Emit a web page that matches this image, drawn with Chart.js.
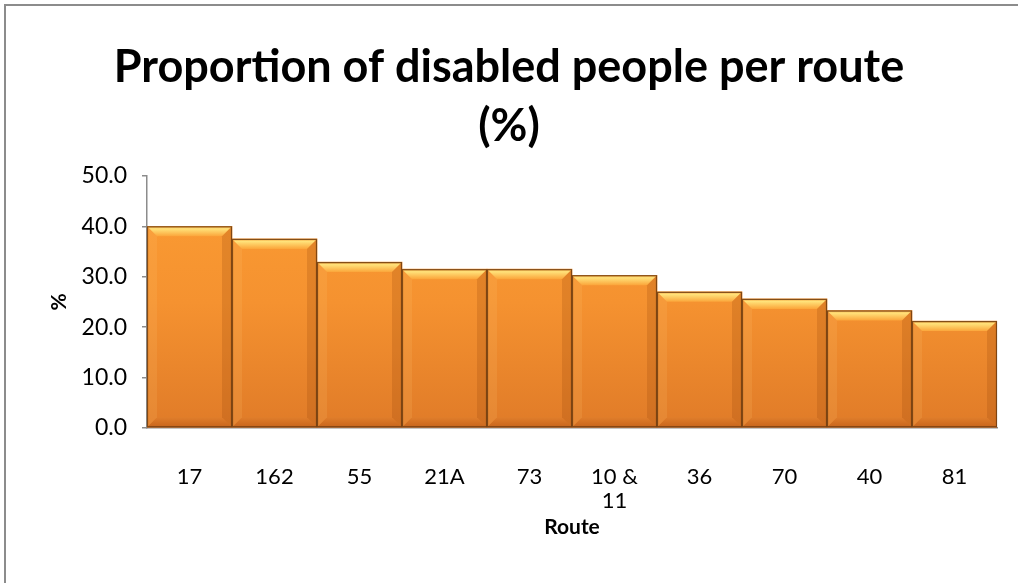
<!DOCTYPE html>
<html>
<head>
<meta charset="utf-8">
<script src="https://cdn.jsdelivr.net/npm/chart.js@4/dist/chart.umd.min.js"></script>
<style>
  html, body { margin: 0; padding: 0; background: #fff; overflow: hidden; width: 1018px; height: 583px; }
  #vline { position: absolute; left: 4px; top: 4px; width: 2px; height: 579px; background: #8c8c8c; }
  #hline { position: absolute; left: 4px; top: 4px; width: 1014px; height: 2px; background: #8c8c8c; }
  #wrap { position: absolute; left: 0; top: 0; width: 1018px; height: 583px; }
</style>
</head>
<body>
<div id="vline"></div>
<div id="hline"></div>
<div id="wrap"><canvas id="c" width="1018" height="583"></canvas></div>
<script>
const titleLines = ['Proportion of disabled people per route', '(%)'];
const categories = ['17', '162', '55', '21A', '73', ['10 &', '11'], '36', '70', '40', '81'];
const values = [40.0, 37.5, 32.9, 31.5, 31.5, 30.3, 27.0, 25.6, 23.3, 21.2];
const yTicks = { min: 0, max: 50, step: 10 };
const xTitle = 'Route';
const yTitle = '%';

const FONT = 'Lato, "Open Sans", sans-serif';

function barGradient(ctx) {
  const chart = ctx.chart;
  const area = chart.chartArea;
  if (!area) return '#F7962F';
  const g = chart.ctx.createLinearGradient(0, area.top, 0, area.bottom);
  g.addColorStop(0, '#FC9D33');
  g.addColorStop(0.5, '#F59230');
  g.addColorStop(1, '#E07B28');
  return g;
}

const bevelPlugin = {
  id: 'bevel',
  afterDatasetsDraw(chart) {
    const ctx = chart.ctx;
    const meta = chart.getDatasetMeta(0);
    meta.data.forEach(bar => {
      const l = bar.x - bar.width / 2, r = bar.x + bar.width / 2;
      const t = bar.y, b = bar.base;
      const s = 10;
      ctx.save();
      let g = ctx.createLinearGradient(0, t, 0, t + s);
      g.addColorStop(0, '#F8A540');
      g.addColorStop(0.25, '#FFE27A');
      g.addColorStop(1, '#FBA53A');
      ctx.fillStyle = g;
      ctx.beginPath();
      ctx.moveTo(l, t); ctx.lineTo(r, t); ctx.lineTo(r - s, t + s); ctx.lineTo(l + s, t + s); ctx.closePath();
      ctx.fill();
      g = ctx.createLinearGradient(0, b - s, 0, b);
      g.addColorStop(0, '#E07E2B');
      g.addColorStop(1, '#C8651C');
      ctx.fillStyle = g;
      ctx.beginPath();
      ctx.moveTo(l, b); ctx.lineTo(r, b); ctx.lineTo(r - s, b - s); ctx.lineTo(l + s, b - s); ctx.closePath();
      ctx.fill();
      ctx.fillStyle = 'rgba(255,200,120,0.15)';
      ctx.beginPath();
      ctx.moveTo(l, t); ctx.lineTo(l + s, t + s); ctx.lineTo(l + s, b - s); ctx.lineTo(l, b); ctx.closePath();
      ctx.fill();
      ctx.fillStyle = 'rgba(150,70,10,0.22)';
      ctx.beginPath();
      ctx.moveTo(r, t); ctx.lineTo(r - s, t + s); ctx.lineTo(r - s, b - s); ctx.lineTo(r, b); ctx.closePath();
      ctx.fill();
      ctx.strokeStyle = 'rgba(110,60,15,0.85)';
      ctx.lineWidth = 1.2;
      ctx.strokeRect(l + 0.5, t + 0.5, r - l - 1, b - t - 1);
      ctx.restore();
    });
  }
};

new Chart(document.getElementById('c'), {
  type: 'bar',
  data: {
    labels: categories,
    datasets: [{
      data: values,
      backgroundColor: barGradient,
      borderWidth: 0,
      categoryPercentage: 1.0,
      barPercentage: 1.0
    }]
  },
  options: {
    responsive: false,
    animation: false,
    devicePixelRatio: 1,
    layout: { padding: { left: 21, right: 21, top: 0, bottom: 0 } },
    plugins: {
      legend: { display: false },
      tooltip: { enabled: false },
      title: {
        display: true,
        text: titleLines,
        color: '#000',
        font: { family: FONT, size: 45, weight: 'bold', lineHeight: 1.31 },
        padding: { top: 38, bottom: 20 }
      }
    },
    scales: {
      x: {
        grid: { display: true, drawOnChartArea: false, drawTicks: false },
        border: { display: true, color: '#8c8c8c', width: 1.5 },
        ticks: {
          color: '#000', padding: 37, maxRotation: 0, autoSkip: false,
          font: { family: FONT, size: 22, lineHeight: 1.1 }
        },
        title: {
          display: true, text: xTitle, color: '#000',
          font: { family: FONT, size: 21, weight: 'bold', lineHeight: 1.2 },
          padding: { top: 0, bottom: 43 }
        },
        afterFit(scale) { scale.height = 155; }
      },
      y: {
        min: yTicks.min, max: yTicks.max,
        grid: { display: true, drawOnChartArea: false, drawTicks: true, tickLength: 5, color: '#8c8c8c', lineWidth: 1.5 },
        border: { display: true, color: '#8c8c8c', width: 1.5 },
        ticks: {
          stepSize: yTicks.step, color: '#000', padding: 15,
          font: { family: FONT, size: 23 },
          callback: v => Number(v).toFixed(1)
        },
        title: {
          display: true, text: yTitle, color: '#000',
          font: { family: FONT, size: 21, weight: 'bold', lineHeight: 1.2 },
          padding: { top: 26, bottom: 0 }
        },
        afterFit(scale) { scale.width = 126; }
      }
    }
  },
  plugins: [bevelPlugin]
});
</script>
</body>
</html>
